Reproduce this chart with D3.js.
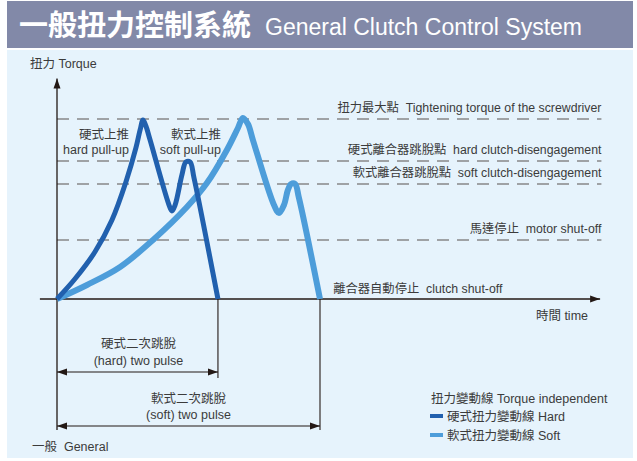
<!DOCTYPE html>
<html>
<head>
<meta charset="utf-8">
<script src="https://cdn.jsdelivr.net/npm/d3@7"></script>
<style>
    body { margin: 0; background: #fff; }
    svg text { font-family: "Liberation Sans", "Noto Sans CJK TC", sans-serif; fill: #3b3b3b; white-space: pre; }
</style>
</head>
<body>
<div id="chart"></div>
<script>
// torque curves (time units, torque % of max)
const hardTime   = [0, 6.8, 14.4, 20.9, 26.2, 30.0, 31.6, 32.7, 33.8, 35.4, 42.6, 43.7, 44.9, 47.5, 49.0, 50.6, 52.1, 61.2];
const hardTorque = [0, 11.1, 26.1, 43.9, 65.0, 83.9, 93.9, 99.4, 96.1, 88.3, 52.2, 48.9, 52.2, 68.9, 76.1, 76.1, 67.2, 0];

const softTime   = [0, 11.4, 24.0, 36.5, 49.4, 57.0, 64.6, 68.8, 70.7, 72.6, 74.5, 82.5, 84.4, 86.3, 87.8, 89.0, 90.5, 92.0, 100];
const softTorque = [0, 7.8, 17.8, 32.8, 51.1, 64.4, 82.8, 95.0, 100.6, 97.2, 88.3, 52.2, 47.8, 52.2, 60.6, 63.9, 63.9, 56.1, 0];

// reference levels
const levelValues = [100, 76.7, 63.9, 32.8];
const levelLabels = [
    "扭力最大點  Tightening torque of the screwdriver",
    "硬式離合器跳脫點  hard clutch-disengagement",
    "軟式離合器跳脫點  soft clutch-disengagement",
    "馬達停止  motor shut-off"
];

const colors = { hard: "#2160ae", soft: "#4d9dda" };

const width = 637;
const height = 461;

let svg = d3.select("#chart")
    .append("svg")
    .attr("width", width)
    .attr("height", height);

// background panel + title bar
svg.append("rect").attr("x", 7).attr("y", 50).attr("width", 626).attr("height", 408).attr("fill", "#e6f3fc");
svg.append("rect").attr("x", 7).attr("y", 1).attr("width", 626).attr("height", 47).attr("fill", "#8289a8");

svg.append("text")
    .attr("x", 19).attr("y", 36)
    .style("font-family", "'Noto Sans CJK TC'")
    .style("font-weight", "bold")
    .style("font-size", "29px")
    .style("fill", "#fff")
    .text("一般扭力控制系統");
svg.append("text")
    .attr("x", 265).attr("y", 35)
    .style("font-size", "23px")
    .style("fill", "#fff")
    .text("General Clutch Control System");

// scales
let x = d3.scaleLinear().domain([0, 100]).range([57, 320]);
let y = d3.scaleLinear().domain([0, 100]).range([299, 119]);

// arrow markers
let defs = svg.append("defs");
function marker(id, orient) {
    defs.append("marker")
        .attr("id", id)
        .attr("viewBox", "0 0 10 10")
        .attr("refX", 10).attr("refY", 5)
        .attr("markerWidth", 10).attr("markerHeight", 10)
        .attr("markerUnits", "userSpaceOnUse")
        .attr("orient", orient)
        .append("path")
        .attr("d", "M0,1.5 L10,5 L0,8.5 Z")
        .attr("fill", "#231815");
}
marker("arrow", "auto");
marker("arrow2", "auto-start-reverse");

// dashed reference lines
svg.selectAll(".level")
    .data(levelValues)
    .enter()
    .append("line")
    .attr("class", "level")
    .attr("x1", x(0)).attr("x2", x(207))
    .attr("y1", d => y(d)).attr("y2", d => y(d))
    .attr("stroke", "#888")
    .attr("stroke-width", 1.4)
    .attr("stroke-dasharray", "12,8");

svg.selectAll(".level-label")
    .data(levelValues)
    .enter()
    .append("text")
    .attr("class", "level-label")
    .attr("x", x(207))
    .attr("y", d => y(d) - 7)
    .attr("text-anchor", "end")
    .style("font-size", "12.3px")
    .text((d, i) => levelLabels[i]);

// axes
svg.append("line")
    .attr("x1", x(-6.5)).attr("x2", x(206.5))
    .attr("y1", y(0)).attr("y2", y(0))
    .attr("stroke", "#231815").attr("stroke-width", 1.3)
    .attr("marker-end", "url(#arrow)");
svg.append("line")
    .attr("x1", x(0)).attr("x2", x(0))
    .attr("y1", 430).attr("y2", y(122.5))
    .attr("stroke", "#231815").attr("stroke-width", 1.3)
    .attr("marker-end", "url(#arrow)");

svg.append("text").attr("x", 30).attr("y", 68).style("font-size", "12.5px").text("扭力 Torque");
svg.append("text").attr("x", 588).attr("y", 320).attr("text-anchor", "end").style("font-size", "12.5px").text("時間 time");
svg.append("text").attr("x", x(105)).attr("y", y(0) - 6).style("font-size", "12.3px").text("離合器自動停止  clutch shut-off");

// curves
let line = d3.line()
    .x(d => x(d[0]))
    .y(d => y(d[1]))
    .curve(d3.curveCatmullRom.alpha(0.5));

let softData = d3.zip(softTime, softTorque);
let hardData = d3.zip(hardTime, hardTorque);

svg.append("path")
    .datum(softData)
    .attr("d", line)
    .attr("fill", "none")
    .attr("stroke", colors.soft)
    .attr("stroke-width", 6)
    .attr("stroke-linejoin", "round");

svg.append("path")
    .datum(hardData)
    .attr("d", line)
    .attr("fill", "none")
    .attr("stroke", colors.hard)
    .attr("stroke-width", 5)
    .attr("stroke-linejoin", "round");

// pull-up labels
svg.append("text").attr("x", 129).attr("y", 139).attr("text-anchor", "end").style("font-size", "12.5px").text("硬式上推");
svg.append("text").attr("x", 129).attr("y", 154).attr("text-anchor", "end").style("font-size", "12.5px").text("hard pull-up");
svg.append("text").attr("x", 221).attr("y", 139).attr("text-anchor", "end").style("font-size", "12.5px").text("軟式上推");
svg.append("text").attr("x", 221).attr("y", 154).attr("text-anchor", "end").style("font-size", "12.5px").text("soft pull-up");

// two pulse brackets
let hardEnd = hardTime[hardTime.length - 1];
let softEnd = softTime[softTime.length - 1];

svg.append("line")
    .attr("x1", x(hardEnd)).attr("x2", x(hardEnd))
    .attr("y1", y(0)).attr("y2", 378)
    .attr("stroke", "#231815").attr("stroke-width", 1.1);
svg.append("line")
    .attr("x1", x(softEnd)).attr("x2", x(softEnd))
    .attr("y1", y(0)).attr("y2", 430)
    .attr("stroke", "#231815").attr("stroke-width", 1.1);

svg.append("line")
    .attr("x1", x(0)).attr("x2", x(hardEnd))
    .attr("y1", 372).attr("y2", 372)
    .attr("stroke", "#231815").attr("stroke-width", 1.1)
    .attr("marker-start", "url(#arrow2)")
    .attr("marker-end", "url(#arrow)");
svg.append("line")
    .attr("x1", x(0)).attr("x2", x(softEnd))
    .attr("y1", 426).attr("y2", 426)
    .attr("stroke", "#231815").attr("stroke-width", 1.1)
    .attr("marker-start", "url(#arrow2)")
    .attr("marker-end", "url(#arrow)");

svg.append("text").attr("x", x(hardEnd / 2) + 1).attr("y", 348).attr("text-anchor", "middle").style("font-size", "12.5px").text("硬式二次跳脫");
svg.append("text").attr("x", x(hardEnd / 2) + 1).attr("y", 365).attr("text-anchor", "middle").style("font-size", "12.5px").text("(hard) two pulse");
svg.append("text").attr("x", x(softEnd / 2)).attr("y", 403).attr("text-anchor", "middle").style("font-size", "12.5px").text("軟式二次跳脫");
svg.append("text").attr("x", x(softEnd / 2)).attr("y", 419).attr("text-anchor", "middle").style("font-size", "12.5px").text("(soft) two pulse");

svg.append("text").attr("x", 32).attr("y", 451).style("font-size", "12.5px").text("一般  General");

// legend
svg.append("text").attr("x", 431).attr("y", 403).style("font-size", "12.5px").text("扭力變動線 Torque independent");
let legend = svg.selectAll(".legend")
    .data([["硬式扭力變動線 Hard", colors.hard], ["軟式扭力變動線 Soft", colors.soft]])
    .enter()
    .append("g")
    .attr("class", "legend")
    .attr("transform", (d, i) => `translate(430, ${416 + i * 19})`);
legend.append("rect").attr("x", 0).attr("y", -2).attr("width", 13).attr("height", 4).attr("fill", d => d[1]);
legend.append("text").attr("x", 17).attr("y", 5).style("font-size", "12.5px").text(d => d[0]);
</script>
</body>
</html>
